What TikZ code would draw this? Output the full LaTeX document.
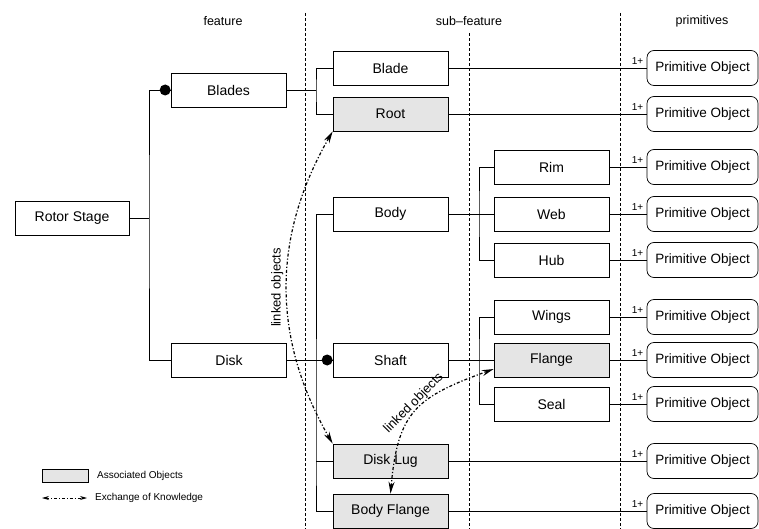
\documentclass[tikz,border=0pt]{standalone}
\usepackage{fontspec}
\setmainfont{Liberation Sans}
\usetikzlibrary{arrows.meta}

\begin{document}
\begin{tikzpicture}[x=1pt,y=1pt,
		box/.style={draw, line width=0.7pt, minimum width=115pt, minimum height=34pt, inner sep=0pt, font=\fontsize{14}{16}\selectfont},
		assoc/.style={box, fill=black!10},
		prim/.style={draw, line width=0.7pt, rounded corners=7pt, minimum width=111pt, minimum height=35pt, inner sep=0pt, font=\fontsize{13.5}{15}\selectfont},
		wire/.style={line width=0.7pt},
		lane/.style={line width=0.6pt, dash pattern=on 3pt off 2pt},
		knows/.style={line width=1.2pt, dash dot, {Stealth[length=12pt,width=6pt]}-{Stealth[length=12pt,width=6pt]}},
		dot/.style={circle, fill=black, inner sep=0pt, minimum size=11pt},
		head/.style={font=\fontsize{12.5}{14}\selectfont},
		small/.style={font=\fontsize{10}{12}\selectfont}]
	\useasboundingbox (0,0) rectangle (759,-529);

	% lanes and headers
	\draw[lane] (305,-13) -- (305,-529);
	\draw[lane] (469,-33) -- (469,-529);
	\draw[lane] (620,-13) -- (620,-529);
	\node[head] (hFeat) at (223,-21) {feature};
	\node[head] (hSub) at (469,-21) {sub--feature};
	\node[head] (hPrim) at (702,-21) {primitives};

	% feature tree
	\node[box, minimum width=114pt] (RS) at (72,-218) {Rotor Stage};
	\node[box] (Blades) at (228.5,-90) {Blades};
	\node[box] (Disk) at (229,-360) {Disk};
	\node[box] (Blade) at (390.5,-68) {Blade};
	\node[assoc] (Root) at (390.5,-114) {Root};
	\node[box] (Body) at (390.5,-214) {Body};
	\node[box] (Shaft) at (390.5,-360) {Shaft};
	\node[assoc] (DL) at (390.5,-461) {Disk Lug};
	\node[assoc] (BF) at (390.5,-511) {Body Flange};
	\node[box] (Rim) at (551.5,-167) {Rim};
	\node[box] (Web) at (551.5,-214) {Web};
	\node[box] (Hub) at (551.5,-260) {Hub};
	\node[box] (Wings) at (551.5,-317) {Wings};
	\node[assoc] (Flange) at (551.5,-360) {Flange};
	\node[box] (Seal) at (551.5,-404) {Seal};

	\coordinate (j1) at (149,-218);
	\coordinate (j2) at (316,-90);
	\coordinate (j3) at (316,-461);
	\coordinate (j4) at (479,-214);
	\coordinate (j5) at (479,-360);
	\draw[wire] (RS) -- (j1);
	\draw[wire] (Blades.west) -| (j1) |- (Disk.west);
	\draw[wire] (Blades) -- (j2);
	\draw[wire] (Blade.west) -| (j2) |- (Root.west);
	\draw[wire] (Disk) -- (Shaft);
	\draw[wire] (Body.west) -| (j3) |- (BF.west);
	\draw[wire] (j3) -- (DL.west);
	\draw[wire] (Body) -- (Web);
	\draw[wire] (Rim.west) -| (j4) |- (Hub.west);
	\draw[wire] (Shaft) -- (Flange);
	\draw[wire] (Wings.west) -| (j5) |- (Seal.west);
	\node[dot] (d1) at ([xshift=-5.5pt]Blades.west) {};
	\node[dot] (d2) at ([xshift=-5.5pt]Shaft.west) {};

	% primitives
	\coordinate (pcol) at (702.5,0);
	\foreach \src in {Blade,Root,Rim,Web,Hub,Wings,Flange,Seal,DL,BF}{
		\node[prim] (P\src) at (pcol |- \src) {Primitive Object};
		\draw[wire] (\src) -- (P\src) node[pos=1, above left, inner sep=3pt, small] {1+};
	}

	% exchange of knowledge
	\draw[knows] (DL.north west) to [bend left=30] node[midway, sloped, above, inner sep=3pt, font=\fontsize{13}{15}\selectfont] {linked objects} (Root.south west);
	\draw[knows] (BF.north) to [out=85, in=200, looseness=1.3] node[pos=0.53, sloped, above, inner sep=0pt, font=\fontsize{13}{15}\selectfont] {linked objects} ([yshift=-9pt]Flange.west);

	% legend
	\node[draw, fill=black!10, line width=0.6pt, minimum width=46pt, minimum height=13pt, inner sep=0pt] (keyBox) at (65,-475.5) {};
	\node[anchor=west, inner sep=0pt, small] (keyBoxTxt) at (97,-475.5) {Associated Objects};
	\coordinate (keyA) at (42,-498);
	\coordinate (keyB) at (87,-498);
	\draw[line width=0.8pt, dash dot, {Stealth[length=7pt,width=4pt]}-{Stealth[length=7pt,width=4pt]}] (keyA) -- (keyB);
	\node[anchor=west, inner sep=0pt, small] (keyArrTxt) at (95,-498) {Exchange of Knowledge};
\end{tikzpicture}
\end{document}
